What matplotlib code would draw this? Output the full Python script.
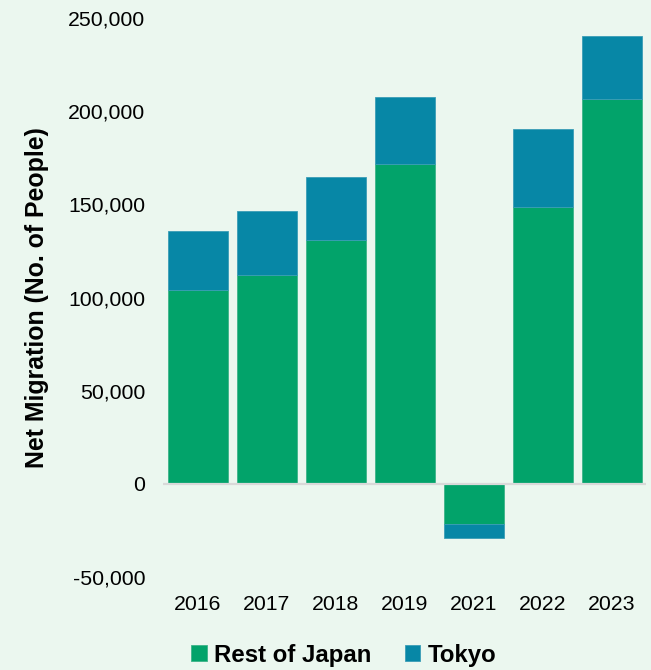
import matplotlib
matplotlib.use("Agg")
import matplotlib.pyplot as plt
from matplotlib.ticker import FuncFormatter

years = ["2016", "2017", "2018", "2019", "2021", "2022", "2023"]
rest_of_japan = [104000, 112000, 130900, 171700, -21500, 148600, 206500]
tokyo = [31700, 34400, 33800, 35900, -7500, 41900, 33800]

BG = "#EBF7EF"
GREEN = "#02A36A"
TEAL = "#0787A6"

plt.rcParams['font.family'] = ['Liberation Sans', 'DejaVu Sans']

fig = plt.figure(figsize=(6.51, 6.70), dpi=100, facecolor=BG)
ax = fig.add_axes([0.251, 0.1388, 0.742, 0.8342], facecolor=BG)

x = list(range(len(years)))
width = 0.87
ax.bar(x, rest_of_japan, width, color=GREEN, label="Rest of Japan",
       edgecolor="#3DB489", linewidth=0.6, zorder=2)
ax.bar(x, tokyo, width, bottom=rest_of_japan, color=TEAL, label="Tokyo",
       edgecolor="#3A9DB6", linewidth=0.6, zorder=2)
ax.axhline(0, color="#D9D9D9", linewidth=1.6, zorder=3)

ax.set_xlim(-0.5, len(years) - 0.5)
ax.set_ylim(-50000, 250000)
ax.set_yticks(range(-50000, 250001, 50000))
ax.yaxis.set_major_formatter(FuncFormatter(lambda v, p: f"{int(v):,}"))
ax.set_xticks(x)
ax.set_xticklabels(years)
ax.tick_params(axis='both', length=0, labelsize=15.3, colors="#000000")
ax.tick_params(axis='y', pad=13)
ax.tick_params(axis='x', pad=13)
for s in ax.spines.values():
    s.set_visible(False)

ax.set_ylabel("Net Migration (No. of People)", fontsize=17.9, fontweight='bold', labelpad=14)

leg = fig.legend(loc='center', bbox_to_anchor=(0.528, 0.022), ncol=2, frameon=False,
                 prop={'size': 17.3, 'weight': 'bold'}, handlelength=0.65, handleheight=0.65,
                 handletextpad=0.3, columnspacing=1.4)

fig.savefig("out.png", dpi=100, facecolor=BG)
